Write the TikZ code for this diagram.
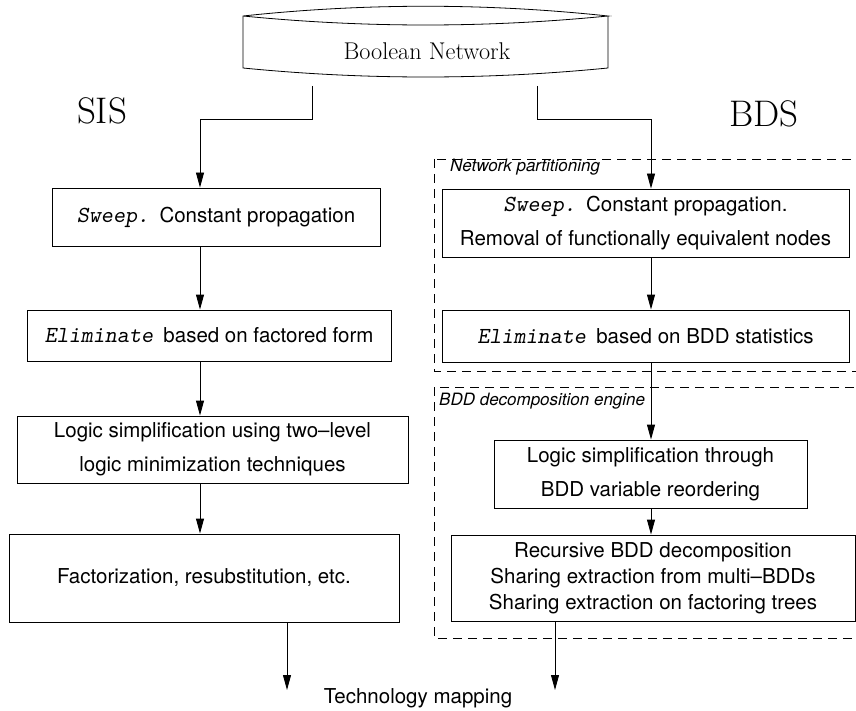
\documentclass[tikz,border=0pt]{standalone}
\usepackage{fontspec}
\newfontfamily\hv{TeX Gyre Heros}
\usetikzlibrary{arrows.meta}
\newcommand\tcmd[1]{{\fontsize{23}{34}\selectfont\ttfamily\slshape #1}}
\begin{document}
\begin{tikzpicture}[x=1pt,y=-1pt,
  stage/.style={draw, line width=0.9pt, rectangle, inner sep=0pt, align=center,
    font=\hv\fontsize{20.5}{34}\selectfont},
  group/.style={draw, line width=0.8pt, dash pattern=on 9pt off 6pt},
  grouplabel/.style={anchor=west, inner sep=0pt, font=\hv\itshape\fontsize{17}{20}\selectfont},
  flow/.style={line width=0.9pt, -{Triangle[length=15pt,width=8pt]}},
  tool/.style={font=\fontsize{37}{42}\selectfont, anchor=base, inner sep=0pt}
]
\useasboundingbox (0,0) rectangle (856,711);

% input network (disk shape)
\draw[line width=0.8pt] (243,16) .. controls (365,3) and (486,3) .. (608,16)
  .. controls (486,28) and (365,28) .. (243,16) -- (243,68)
  .. controls (365,80) and (486,80) .. (608,68) -- (608,16);
\node[font=\fontsize{24.2}{28}\selectfont, anchor=base, inner sep=0pt] (bn) at (427,60) {Boolean Network};
\coordinate (bnL) at (312,86);
\coordinate (bnR) at (537,86);
\coordinate (rowY) at (0,119);
\coordinate (colL) at (200,0);
\coordinate (colR) at (651,0);

% system names
\node[tool] (sis) at (102,124) {SIS};
\node[tool] (bds) at (764,127) {BDS};

% groups of the BDS flow
\draw[group] (434,159) rectangle (858,371);
\node[grouplabel] (gp1) at (450,167) {Network partitioning};
\draw[group] (434,387) rectangle (858,638);
\node[grouplabel] (gp2) at (439,401) {BDD decomposition engine};

% SIS flow
\node[stage, minimum width=328pt, minimum height=58pt] (sweepL) at (216,217)
  {\tcmd{Sweep.}\hspace{0.5em}Constant propagation};
\node[stage, minimum width=364pt, minimum height=51pt] (elimL) at (209,335.5)
  {\tcmd{Eliminate}\hspace{0.5em}based on factored form};
\node[stage, minimum width=391pt, minimum height=67pt] (logicL) at (212.5,449.5)
  {Logic simplification using two\textendash level\\logic minimization techniques};
\node[stage, minimum width=390pt, minimum height=88pt] (factL) at (204,578)
  {Factorization, resubstitution, etc.};

% BDS flow
\node[stage, minimum width=407pt, minimum height=68pt] (sweepR) at (645.5,223)
  {\tcmd{Sweep.}\hspace{0.5em}Constant propagation.\\Removal of functionally equivalent nodes};
\node[stage, minimum width=407pt, minimum height=52pt] (elimR) at (645.5,336)
  {\tcmd{Eliminate}\hspace{0.5em}based on BDD statistics};
\node[stage, minimum width=313pt, minimum height=68pt] (logicR) at (650.5,474)
  {Logic simplification through\\BDD variable reordering};
\node[stage, minimum width=404pt, minimum height=86pt,
  font=\hv\fontsize{20.5}{26}\selectfont] (recR) at (653,578)
  {Recursive BDD decomposition\\Sharing extraction from multi\textendash BDDs\\Sharing extraction on factoring trees};

% output
\node[font=\hv\fontsize{20.5}{24}\selectfont, inner sep=0pt] (tm) at (418,698) {Technology mapping};
\coordinate (endL) at (287,690);
\coordinate (endR) at (555,690);

% connectors
\draw[flow] (bnL) -- (bnL |- rowY) -| (sweepL.north -| colL);
\draw[flow] (bnR) -- (bnR |- rowY) -| (sweepR.north -| colR);
\draw[flow] (sweepL.south -| colL) -- (elimL.north -| colL);
\draw[flow] (elimL.south -| colL) -- (logicL.north -| colL);
\draw[flow] (logicL.south -| colL) -- (factL.north -| colL);
\draw[flow] (sweepR.south -| colR) -- (elimR.north -| colR);
\draw[flow] (elimR.south -| colR) -- (logicR.north -| colR);
\draw[flow] (logicR.south -| colR) -- (recR.north -| colR);
\draw[flow] (factL.south -| endL) -- (endL);
\draw[flow] (recR.south -| endR) -- (endR);
\end{tikzpicture}
\end{document}
